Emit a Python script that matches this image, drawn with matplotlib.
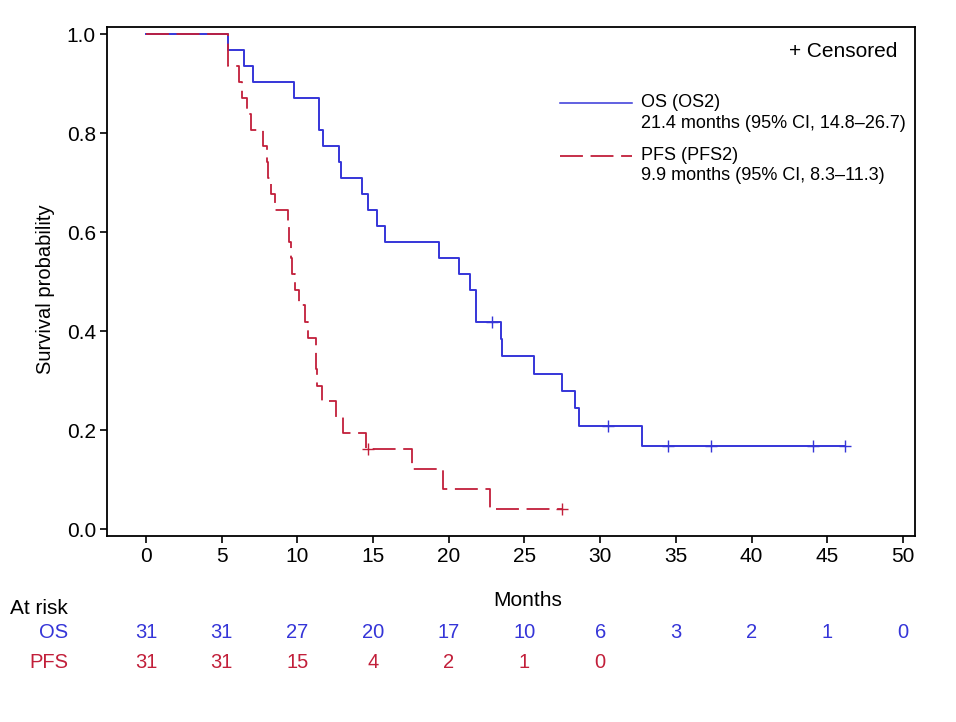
import matplotlib
matplotlib.use("Agg")
import matplotlib.pyplot as plt
import matplotlib.transforms as mtransforms
from matplotlib.lines import Line2D

plt.rcParams['font.family'] = ['Liberation Sans', 'DejaVu Sans']
plt.rcParams['lines.scale_dashes'] = False

# ---- data ----
os_times = [0, 5.4, 6.45, 7.08, 9.78, 11.43, 11.67, 12.75, 12.88, 14.24, 14.67, 15.28, 15.79,
            19.37, 20.67, 21.38, 21.8, 23.43, 23.54, 25.63, 27.45, 28.33, 28.6, 32.76, 46.2]
os_surv = [1.0, 0.968, 0.935, 0.903, 0.871, 0.806, 0.774, 0.742, 0.710, 0.677, 0.645, 0.613, 0.581,
           0.548, 0.516, 0.484, 0.419, 0.384, 0.349, 0.314, 0.279, 0.244, 0.209, 0.168, 0.168]
os_cens_t = [22.85, 30.55, 34.45, 37.35, 44.05, 46.2]
os_cens_s = [0.419, 0.209, 0.168, 0.168, 0.168, 0.168]

pfs_times = [0, 5.44, 6.14, 6.32, 6.65, 6.96, 7.75, 7.97, 8.06, 8.24, 8.5, 9.4, 9.45, 9.6, 9.65,
             9.82, 10.1, 10.49, 10.7, 11.2, 11.22, 11.27, 11.65, 12.53, 12.99, 14.51, 17.6, 19.6,
             22.7, 27.5]
pfs_surv = [1.0, 0.935, 0.903, 0.871, 0.839, 0.806, 0.774, 0.742, 0.710, 0.677, 0.645, 0.613, 0.581,
            0.548, 0.516, 0.484, 0.452, 0.419, 0.387, 0.355, 0.323, 0.290, 0.258, 0.226, 0.194,
            0.161, 0.121, 0.081, 0.040, 0.040]
pfs_cens_t = [14.64, 27.5]
pfs_cens_s = [0.161, 0.040]

risk_times = [0, 5, 10, 15, 20, 25, 30, 35, 40, 45, 50]
os_risk = [31, 31, 27, 20, 17, 10, 6, 3, 2, 1, 0]
pfs_risk = [31, 31, 15, 4, 2, 1, 0]

os_label = "OS (OS2)"
os_median = "21.4 months (95% CI, 14.8\u201326.7)"
pfs_label = "PFS (PFS2)"
pfs_median = "9.9 months (95% CI, 8.3\u201311.3)"

BLUE = '#3535d8'
RED = '#c21f3a'

fig = plt.figure(figsize=(9.56, 7.22), dpi=100)
ax = fig.add_axes([107/956, 1-535.7/722, (915-107)/956, (535.7-27.3)/722])

ax.plot(os_times, os_surv, drawstyle='steps-post', color=BLUE, lw=1.4)
ax.plot(os_cens_t, os_cens_s, ls='none', marker='+', color=BLUE, ms=8, mew=1.0)
ax.plot(pfs_times, pfs_surv, drawstyle='steps-post', color=RED, lw=1.3, dashes=(16.5, 5.5))
ax.plot(pfs_cens_t, pfs_cens_s, ls='none', marker='+', color=RED, ms=8, mew=1.0)

ax.set_xlim(-2.58, 50.8)
ax.set_ylim(-0.0135, 1.014)
ax.set_xticks(risk_times)
ax.set_yticks([0, 0.2, 0.4, 0.6, 0.8, 1.0])
ax.set_yticklabels(['0.0', '0.2', '0.4', '0.6', '0.8', '1.0'])
ax.tick_params(direction='out', length=5, width=1.2, labelsize=15, pad=3)
for s in ax.spines.values():
    s.set_linewidth(1.3)
ax.set_ylabel('Survival probability', fontsize=14.5)
ax.yaxis.set_label_coords(-0.064, 0.485)

# legend (drawn manually)
ax.text(0.9777, 0.953, '+ Censored', transform=ax.transAxes, ha='right', va='center', fontsize=15)
ax.add_line(Line2D([0.5606, 0.6498], [0.851, 0.851], transform=ax.transAxes, color=BLUE, lw=1.1))
ax.text(0.661, 0.852, os_label, transform=ax.transAxes, ha='left', va='center', fontsize=13)
ax.text(0.661, 0.811, os_median, transform=ax.transAxes, ha='left', va='center', fontsize=13)
ax.add_line(Line2D([0.5606, 0.6498], [0.747, 0.747], transform=ax.transAxes, color=RED, lw=1.3,
                   dashes=(16.5, 5.5)))
ax.text(0.661, 0.747, pfs_label, transform=ax.transAxes, ha='left', va='center', fontsize=13)
ax.text(0.661, 0.708, pfs_median, transform=ax.transAxes, ha='left', va='center', fontsize=13)

# x label and risk table
fig.text(528/956, 1-601/722, 'Months', ha='center', va='center', fontsize=15)
fig.text(10/956, 1-608/722, 'At risk', ha='left', va='center', fontsize=15)
fig.text(68/956, 1-633/722, 'OS', ha='right', va='center', fontsize=14.5, color=BLUE)
fig.text(68/956, 1-662/722, 'PFS', ha='right', va='center', fontsize=14.5, color=RED)
trans = mtransforms.blended_transform_factory(ax.transData, fig.transFigure)
for t, n in zip(risk_times, os_risk):
    fig.text(t, 1-633/722, str(n), transform=trans, ha='center', va='center', fontsize=14.5, color=BLUE)
for t, n in zip(risk_times, pfs_risk):
    fig.text(t, 1-662/722, str(n), transform=trans, ha='center', va='center', fontsize=14.5, color=RED)

fig.savefig('out.png', dpi=100)
